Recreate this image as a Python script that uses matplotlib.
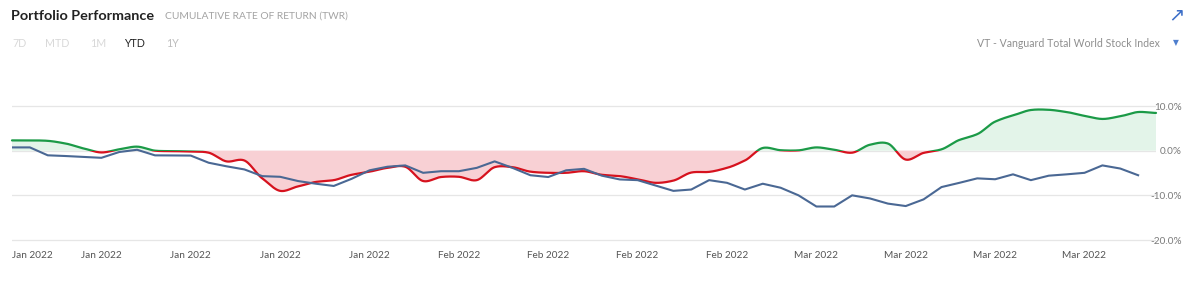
import numpy as np
import matplotlib
matplotlib.use("Agg")
import matplotlib.pyplot as plt
from matplotlib.patches import Rectangle

# ---------------- data ----------------
portfolio = [2.3, 2.3, 2.2, 1.6, 0.5, -0.4, 0.3, 0.9, 0.0, -0.1,
             -0.2, -0.45, -2.4, -2.2, -6.2, -9.0, -8.0, -7.0, -6.6, -5.4,
             -4.7, -3.85, -3.6, -6.8, -5.9, -5.85, -6.6, -3.7, -3.7, -4.7,
             -4.96, -4.96, -4.6, -5.4, -5.7, -6.4, -7.2, -6.7, -4.9, -4.75,
             -3.85, -2.2, 0.6, 0.1, 0.07, 0.73, 0.2, -0.45, 1.33, 1.6,
             -2.0, -0.5, 0.3, 2.4, 3.7, 6.5, 7.9, 9.1, 9.15, 8.65,
             7.8, 7.1, 7.7, 8.65, 8.45]
benchmark = [0.73, 0.73, -1.04, -1.2, -1.4, -1.6, -0.3, 0.2, -1.05, -1.07,
             -1.1, -2.7, -3.5, -4.2, -5.7, -5.85, -6.8, -7.4, -7.9, -6.3,
             -4.4, -3.6, -3.3, -4.96, -4.6, -4.6, -3.85, -2.4, -3.85, -5.5,
             -5.9, -4.4, -4.07, -5.6, -6.44, -6.6, -7.8, -9.0, -8.7, -6.6,
             -7.2, -8.7, -7.4, -8.3, -10.0, -12.5, -12.5, -10.0, -10.7, -11.85,
             -12.4, -10.9, -8.15, -7.2, -6.2, -6.4, -5.3, -6.6, -5.6, -5.3,
             -4.96, -3.3, -4.0, -5.5]
tick_positions = [0, 5, 10, 15, 20, 25, 30, 35, 40, 45, 50, 55, 60]
tick_labels = ["Jan 2022"] * 5 + ["Feb 2022"] * 4 + ["Mar 2022"] * 4
y_ticks = [10, 0, -10, -20]
y_tick_labels = ["10.0%", "0.0%", "-10.0%", "-20.0%"]
periods = ["7D", "MTD", "1M", "YTD", "1Y"]
benchmark_name = "VT - Vanguard Total World Stock Index"

# ---------------- style ----------------
GREEN = "#1b9a47"
RED = "#d6121e"
GREEN_FILL = "#e3f4e9"
RED_FILL = "#f8d0d4"
BLUE = "#4a6894"
GRID = "#e6e6e6"
FONT = "Lato"

plt.rcParams["font.family"] = [FONT, "DejaVu Sans"]

W, H = 1200, 282
fig = plt.figure(figsize=(W / 100, H / 100), dpi=100)

ylo, yhi = -20.5, 10.5
px_per_unit = (240 - 106) / 30.0
top_px = 106 - (yhi - 10) * px_per_unit
bot_px = 240 + (-20 - ylo) * px_per_unit
left_px, right_px = 12, 1156
ax = fig.add_axes([left_px / W, 1 - bot_px / H, (right_px - left_px) / W, (bot_px - top_px) / H])


def smooth(y, n=24, k=0.85):
    """Cardinal-spline smoothing for drawing the spline line."""
    y = np.asarray(y, float)
    x = np.arange(len(y), dtype=float)
    m = np.zeros_like(y)
    m[1:-1] = k * (y[2:] - y[:-2]) / 2.0
    m[0] = 0.0
    m[-1] = 0.0
    xs, ys = [], []
    for i in range(len(y) - 1):
        t = np.linspace(0, 1, n, endpoint=False)
        h00 = 2 * t**3 - 3 * t**2 + 1
        h10 = t**3 - 2 * t**2 + t
        h01 = -2 * t**3 + 3 * t**2
        h11 = t**3 - t**2
        xs.append(x[i] + t)
        ys.append(h00 * y[i] + h10 * m[i] + h01 * y[i + 1] + h11 * m[i + 1])
    xs.append([x[-1]])
    ys.append([y[-1]])
    return np.concatenate(xs), np.concatenate(ys)


px, py = smooth(portfolio)
ax.fill_between(px, py, 0, where=py >= 0, interpolate=True, color=GREEN_FILL, lw=0, zorder=1)
ax.fill_between(px, py, 0, where=py <= 0, interpolate=True, color=RED_FILL, lw=0, zorder=1)

xmin, xmax = 0, len(portfolio) - 1
lg, = ax.plot(px, py, color=GREEN, lw=1.6, zorder=3, solid_capstyle="round")
lr, = ax.plot(px, py, color=RED, lw=1.6, zorder=3, solid_capstyle="round")
clip_up = Rectangle((xmin - 1, 0), xmax - xmin + 2, 100, transform=ax.transData)
clip_dn = Rectangle((xmin - 1, -100), xmax - xmin + 2, 100, transform=ax.transData)
lg.set_clip_path(clip_up)
lr.set_clip_path(clip_dn)

ax.plot(np.arange(len(benchmark)), benchmark, color=BLUE, lw=1.5, zorder=4)

ax.set_xlim(xmin, xmax)
ax.set_ylim(ylo, yhi)
for s in ax.spines.values():
    s.set_visible(False)
ax.set_yticks(y_ticks)
ax.grid(axis="y", color=GRID, lw=0.9, zorder=0)
ax.set_axisbelow(True)
ax.yaxis.tick_right()
ax.set_yticklabels(y_tick_labels)
ax.tick_params(axis="y", length=0, pad=18.5, labelsize=7.2, labelcolor="#7a7a7a")
for lab in ax.get_yticklabels():
    lab.set_ha("right")

ax.set_xticks(tick_positions)
ax.set_xticklabels(tick_labels)
ax.tick_params(axis="x", length=0, pad=6, labelsize=7.2, labelcolor="#555555")
ax.get_xticklabels()[0].set_ha("left")

# ---------------- header ----------------
def fx(p):
    return p / W


def fy(p):
    return 1 - p / H


fig.text(fx(11), fy(16), "Portfolio Performance", fontsize=10.4, fontweight="bold",
         color="#222222", va="center", ha="left")
fig.text(fx(165), fy(16.5), "CUMULATIVE RATE OF RETURN (TWR)", fontsize=7.4,
         color="#a3a3a3", va="center", ha="left")

period_x = [12, 45, 90, 124, 166]
period_col = ["#d8d8d8", "#d8d8d8", "#d8d8d8", "#222222", "#bdbdbd"]
for lab, xp, c in zip(periods, period_x, period_col):
    fig.text(fx(xp), fy(43), lab, fontsize=7.7, color=c, va="center", ha="left")

fig.text(fx(1160), fy(43), benchmark_name, fontsize=7.6, color="#8f8f8f",
         va="center", ha="right")
fig.text(fx(1176), fy(43), "\u25BC", fontsize=5.5, color="#4f7fce", va="center",
         ha="center", family="DejaVu Sans")
fig.text(fx(1176), fy(15), "\u2197", fontsize=14, color="#3d6fc8", va="center",
         ha="center", family="DejaVu Sans")

fig.savefig("out.png", dpi=100, facecolor="white")
